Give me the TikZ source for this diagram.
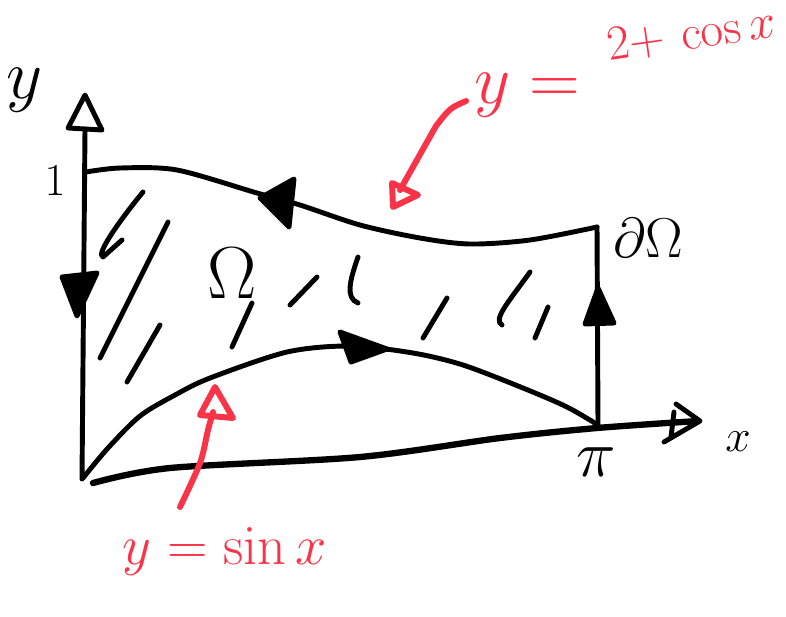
\RequirePackage{fix-cm}
\documentclass[tikz,border=0pt]{standalone}
\usepackage{xcolor}
\usepackage{graphicx}
\usepackage{tikz}

\definecolor{penred}{RGB}{250,52,72}

\begin{document}
\begin{tikzpicture}[
  x=0.02cm, y=-0.02cm,
  ink/.style={line width=2.8pt, line cap=round, line join=round},
  redink/.style={draw=penred, line width=3.4pt, line cap=round, line join=round},
  head/.style={ink, fill=black},
  lab/.style={inner sep=0pt},
  redlab/.style={inner sep=0pt, text=penred},
]
\useasboundingbox (0,0) rectangle (786,616);
% axes
\coordinate (O) at (82,479);
\coordinate (ytip) at (85,95);
\coordinate (xtip) at (700,421);
\draw[ink] (O) -- (85,129);
\draw[ink] (68,128) -- (ytip) -- (102,130) -- cycle;
\draw[ink, line width=3.6pt] plot[smooth] coordinates
  {(93,483) (170,468) (360,457) (500,438) (597,428) (698,421)};
\draw[ink] (676,404) -- (xtip) -- (664,442) (674,412) -- (671,437);
% boundary of the region
\coordinate (TL) at (86,172);
\coordinate (TR) at (597,227);
\coordinate (BR) at (598,425);
\draw[ink] plot[smooth] coordinates {(86,172) (120,168) (177,170) (257,193)
  (300,205) (360,225) (420,238) (470,244) (530,240) (597,227)};
\draw[ink] plot[smooth] coordinates {(83,478) (108,448) (140,416) (175,395)
  (210,378) (287,352) (350,346) (413,353) (463,365) (523,388) (567,407) (598,425)};
\draw[ink] (TR) -- (BR);
% orientation marks
\draw[head] (260,198) -- (294,179) -- (289,227) -- cycle;
\draw[head] (340,332) -- (387,349) -- (351,362) -- cycle;
\draw[head] (598,288) -- (614,323) -- (585,324) -- cycle;
\draw[head] (62,277) -- (97,273) -- (77,316) -- cycle;
% hatching
\draw[ink] (143,192) .. controls (120,220) and (95,255) .. (103,257) -- (122,240);
\draw[ink] (168,222) -- (100,358);
\draw[ink] (160,325) -- (127,382);
\draw[ink] (252,303) -- (232,347);
\draw[ink] (317,277) -- (290,305);
\draw[ink] (358,257) .. controls (350,280) and (345,298) .. (358,303);
\draw[ink] (447,298) -- (423,338);
\draw[ink] (530,272) .. controls (510,300) and (492,320) .. (502,325);
\draw[ink] (548,307) -- (535,338);
% labels
\node[lab, font=\fontsize{40}{40}\selectfont] (ylab) at (25,90) {$y$};
\node[lab, font=\fontsize{26}{26}\selectfont] (one) at (55,181) {$1$};
\node[lab, font=\fontsize{42}{42}\selectfont] (omega) at (232,273) {$\Omega$};
\node[lab, font=\fontsize{32}{32}\selectfont] (bdry) at (648,238) {$\partial\Omega$};
\node[lab, font=\fontsize{38}{38}\selectfont] (pi) at (596,462) {$\pi$};
\node[lab, font=\fontsize{26}{26}\selectfont] (xlab) at (738,442) {$x$};
% red notes
\node[redlab, anchor=base west, font=\fontsize{40}{40}\selectfont] (cosnote) at (474,103)
  {$y =$\hspace{14pt}\raisebox{24pt}{\rotatebox{8}{\fontsize{28}{28}\selectfont$2{+}\,\cos x$}}};
\node[redlab, font=\fontsize{32}{32}\selectfont] (sinnote) at (225,552) {$y=\sin x$};
\draw[redink] (466,101) .. controls (450,108) .. (436,126) -- (400,190);
\draw[redink] (392,183) -- (418,195) -- (393,207) -- cycle;
\draw[redink] plot[smooth] coordinates {(180,507) (200,463) (208,430) (213,412)};
\draw[redink] (215,387) -- (233,418) -- (200,415) -- cycle;
\end{tikzpicture}
\end{document}
